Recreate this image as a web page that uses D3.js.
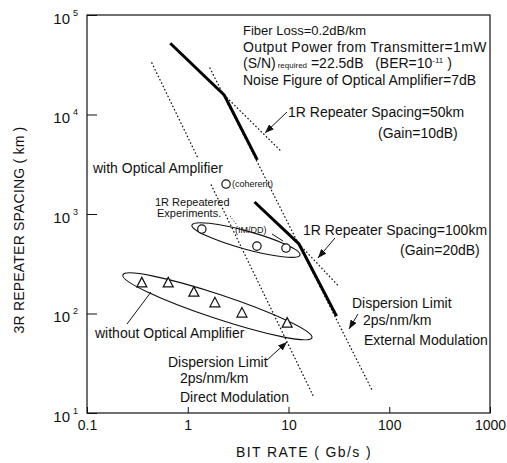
<!DOCTYPE html>
<html>
<head>
<meta charset="utf-8">
<style>
body { margin: 0; background: #fff; }
svg { display: block; }
text { font-family: "Liberation Sans", Arial, sans-serif; fill: #111; }
.ann { font-size: 14px; }
.small { font-size: 9px; }
.mid { font-size: 11px; }
.axis path, .axis line { stroke: #111; }
.thick { stroke: #000; stroke-width: 3; fill: none; stroke-linejoin: round; }
.dots { stroke: #111; stroke-width: 1.3; fill: none; stroke-dasharray: 0.5 3.2; stroke-linecap: round; }
</style>
</head>
<body>
<svg id="svg"></svg>
<script src="https://cdn.jsdelivr.net/npm/d3@7"></script>
<script>
// bit rate (Gb/s) vs 3R repeater spacing (km)
var xTicks = [0.1, 1, 10, 100, 1000]
var yTicks = [10, 100, 1000, 10000, 100000]

// thick curves: repeater spacing limit with optical amplifier
var amp50Rate = [0.67, 2.3, 4.9]
var amp50Span = [52000, 15700, 3500]
var amp100Rate = [4.6, 12.7, 30]
var amp100Span = [1320, 500, 94]

// dotted guide lines
var directRate = [0.44, 1.26, 1.71, 17.5]
var directSpan = [33000, 3660, 1955, 15]
var externalRate = [1.66, 67.5]
var externalSpan = [29300, 17]
var r50Rate = [2.3, 8.2]
var r50Span = [15700, 4400]
var r100Rate = [12.7, 32]
var r100Span = [500, 185]

// experiments
var imddRate = [1.38, 4.86, 9.44]
var imddSpan = [706, 476, 455]
var coherentRate = [2.4]
var coherentSpan = [2000]
var noAmpRate = [0.35, 0.64, 1.15, 1.86, 3.45, 9.7]
var noAmpSpan = [203, 203, 164, 128, 101, 80]

// group outlines (left end, right end)
var imddGroupRate = [1.1, 13.0]
var imddGroupSpan = [774, 387]
var noAmpGroupRate = [0.227, 17.1]
var noAmpGroupSpan = [244, 57]

var W = 507, H = 463
var svg = d3.select("#svg").attr("width", W).attr("height", H)

var x = d3.scaleLog().domain([0.1, 1000]).range([87, 490])
var y = d3.scaleLog().domain([10, 100000]).range([413, 15])

var defs = svg.append("defs")
defs.append("marker").attr("id", "arr")
    .attr("markerUnits", "userSpaceOnUse")
    .attr("markerWidth", 9).attr("markerHeight", 7)
    .attr("refX", 9).attr("refY", 3.5).attr("orient", "auto")
  .append("path").attr("d", "M0,0 L9,3.5 L0,7 z").attr("fill", "#111")

function pts(xs, ys) { return xs.map(function(v, i) { return [v, ys[i]] }) }
var line = d3.line().x(function(d) { return x(d[0]) }).y(function(d) { return y(d[1]) })

// frame
svg.append("rect").attr("x", 87).attr("y", 15).attr("width", 403).attr("height", 398)
   .attr("fill", "none").attr("stroke", "#111").attr("stroke-width", 1.2)

// axes
var xAxis = svg.append("g").attr("class", "axis")
    .attr("transform", "translate(0,413)")
    .call(d3.axisBottom(x).tickValues(xTicks).tickSize(-6).tickPadding(7)
        .tickFormat(function(d) { return d < 1 ? "0.1" : d3.format("d")(d) }))
xAxis.attr("font-size", 14).attr("font-family", null)
xAxis.select(".domain").remove()

var yAxis = svg.append("g").attr("class", "axis")
    .attr("transform", "translate(87,0)")
    .call(d3.axisLeft(y).tickValues(yTicks).tickSize(-10).tickPadding(9).tickFormat(function() { return "10" }))
yAxis.attr("font-size", 15).attr("font-family", null)
yAxis.select(".domain").remove()
yAxis.selectAll(".tick text").attr("dy", "0.55em").each(function(d) {
  d3.select(this).append("tspan").attr("font-size", "9px").attr("dx", 3).attr("dy", "-0.9em")
    .text(Math.round(Math.log10(d)))
})

// axis titles
svg.append("text").attr("x", 304).attr("y", 457).attr("text-anchor", "middle")
   .style("font-size", "14px").style("letter-spacing", "1.4px").text("BIT RATE ( Gb/s )")
svg.append("text").attr("transform", "translate(24,230) rotate(-90)").attr("text-anchor", "middle")
   .style("font-size", "14px").style("letter-spacing", "0.2px").text("3R REPEATER SPACING ( km )")

// dotted guides
var directPts = pts(directRate, directSpan)
svg.append("path").attr("class", "dots").attr("d", line(directPts.slice(0, 2)))
svg.append("path").attr("class", "dots").attr("d", line(directPts.slice(2)))
svg.append("path").attr("class", "dots").attr("d", line(pts(externalRate, externalSpan)))
svg.append("path").attr("class", "dots").attr("d", line(pts(r50Rate, r50Span)))
svg.append("path").attr("class", "dots").attr("d", line(pts(r100Rate, r100Span)))

// thick curves
svg.append("path").attr("class", "thick").attr("d", line(pts(amp50Rate, amp50Span)))
svg.append("path").attr("class", "thick").attr("d", line(pts(amp100Rate, amp100Span)))

// group ellipses
function ellipse(rates, spans, halfW) {
  var x1 = x(rates[0]), y1 = y(spans[0]), x2 = x(rates[1]), y2 = y(spans[1])
  var cx = (x1 + x2) / 2, cy = (y1 + y2) / 2
  var rx = Math.hypot(x2 - x1, y2 - y1) / 2
  var ang = Math.atan2(y2 - y1, x2 - x1) * 180 / Math.PI
  svg.append("ellipse").attr("cx", 0).attr("cy", 0).attr("rx", rx).attr("ry", halfW)
     .attr("transform", "translate(" + cx + "," + cy + ") rotate(" + ang + ")")
     .attr("fill", "none").attr("stroke", "#111").attr("stroke-width", 1.1)
}
ellipse(imddGroupRate, imddGroupSpan, 9)
ellipse(noAmpGroupRate, noAmpGroupSpan, 12)

// markers
svg.selectAll("circle.imdd").data(pts(imddRate, imddSpan).concat(pts(coherentRate, coherentSpan)))
  .enter().append("circle")
  .attr("cx", function(d) { return x(d[0]) }).attr("cy", function(d) { return y(d[1]) })
  .attr("r", 4.2).attr("fill", "#fff").attr("stroke", "#111").attr("stroke-width", 1.2)

svg.selectAll("path.tri").data(pts(noAmpRate, noAmpSpan))
  .enter().append("path")
  .attr("transform", function(d) { return "translate(" + x(d[0]) + "," + y(d[1]) + ")" })
  .attr("d", "M0,-5.5 L5,4 L-5,4 Z")
  .attr("fill", "#fff").attr("stroke", "#111").attr("stroke-width", 1.2)

// text annotations
function note(px, py, str, cls) {
  return svg.append("text").attr("class", cls || "ann").attr("x", px).attr("y", py).text(str)
}
note(243, 35, "Fiber Loss=0.2dB/km").style("font-size", "13px")
note(243, 52, "Output Power from Transmitter=1mW").style("letter-spacing", "0.35px")
var sn = note(243, 68, "(S/N)")
sn.append("tspan").attr("font-size", "8px").attr("dx", 2).text("required")
sn.append("tspan").text(" =22.5dB\u00a0\u00a0\u00a0(BER=10")
sn.append("tspan").attr("font-size", "8px").attr("dy", -5).text("-11")
sn.append("tspan").attr("dy", 5).text(" )")
note(243, 85, "Noise Figure of Optical Amplifier=7dB")

note(288, 117, "1R Repeater Spacing=50km")
note(378, 138, "(Gain=10dB)")
note(93, 173, "with Optical Amplifier")
note(232, 187, "(coherent)", "small")
note(155, 206, "1R Repeatered", "mid")
note(157, 217, "Experiments.", "mid")
note(235, 233, "(IM/DD)", "small")
note(303, 235, "1R Repeater Spacing=100km")
note(400, 255, "(Gain=20dB)")
note(352, 308, "Dispersion Limit")
note(363, 325, "2ps/nm/km")
note(364, 345, "External Modulation")
note(95, 338, "without Optical Amplifier")
note(168, 367, "Dispersion Limit")
note(180, 383, "2ps/nm/km")
note(180, 402, "Direct Modulation")

// leaders and arrows
function lead(x1, y1, x2, y2, arrow, dotted) {
  var l = svg.append("line").attr("x1", x1).attr("y1", y1).attr("x2", x2).attr("y2", y2)
    .attr("stroke", "#111").attr("stroke-width", 1)
  if (arrow) l.attr("marker-end", "url(#arr)")
  if (dotted) l.attr("stroke-dasharray", "1 2")
}
lead(287, 112, 265, 133, true)
lead(335, 238, 318, 258, true)
lead(358, 314, 349, 329, true)
lead(267, 360, 287, 342, true)
lead(127, 324, 151, 292)
lead(230, 216, 237, 225, false, true)
lead(272, 234, 283, 241)
</script>
</body>
</html>
